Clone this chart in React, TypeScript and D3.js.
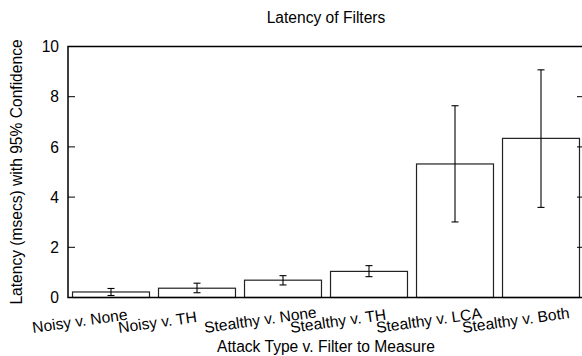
import { useEffect, useRef } from "react";
import * as d3 from "d3";

// ── data ───────────────────────────────────────────────────────────────────
const categories = [
  "Noisy v. None",
  "Noisy v. TH",
  "Stealthy v. None",
  "Stealthy v. TH",
  "Stealthy v. LCA",
  "Stealthy v. Both",
];
const latency = [0.22, 0.37, 0.69, 1.04, 5.32, 6.34];
const ciLow = [0.08, 0.19, 0.5, 0.83, 3.01, 3.59];
const ciHigh = [0.36, 0.57, 0.87, 1.27, 7.64, 9.07];
const yTicks = [0, 2, 4, 6, 8, 10];

const WIDTH = 582;
const HEIGHT = 356;
const FONT = "'Liberation Sans', Arial, Helvetica, sans-serif";
const FS = 15.6;

export default function App() {
  const svgRef = useRef<SVGSVGElement>(null);

  useEffect(() => {
    const svgEl = svgRef.current;
    if (!svgEl) return;

    const margin = { top: 46.5, right: -2, bottom: 58.5, left: 68 };
    const x0 = margin.left;
    const x1 = WIDTH - margin.right; // plot runs a little past the window edge
    const yTop = margin.top;
    const yBot = HEIGHT - margin.bottom;

    const svg = d3.select(svgEl);
    svg.selectAll("*").remove();

    const xScale = d3
      .scaleBand<string>()
      .domain(categories)
      .range([x0, x1])
      .paddingInner(0.105)
      .paddingOuter(0.0525);

    const yScale = d3.scaleLinear().domain([0, 10]).range([yBot, yTop]);

    const rows = categories.map((c, i) => ({
      cat: c,
      v: latency[i],
      lo: ciLow[i],
      hi: ciHigh[i],
    }));

    // ── bars ────────────────────────────────────────────────────────────────
    svg
      .append("g")
      .selectAll("rect")
      .data(rows)
      .join("rect")
      .attr("x", (d) => xScale(d.cat) ?? 0)
      .attr("width", xScale.bandwidth())
      .attr("y", (d) => yScale(d.v))
      .attr("height", (d) => yScale(0) - yScale(d.v))
      .attr("fill", "white")
      .attr("stroke", "#222")
      .attr("stroke-width", 1.2);

    // ── error bars ─────────────────────────────────────────────────────────
    const capW = 3.5;
    const err = svg
      .append("g")
      .attr("stroke", "#000")
      .attr("stroke-width", 1.1)
      .selectAll("g")
      .data(rows)
      .join("g")
      .attr("transform", (d) => `translate(${(xScale(d.cat) ?? 0) + xScale.bandwidth() / 2},0)`);
    err
      .append("line")
      .attr("y1", (d) => yScale(d.lo))
      .attr("y2", (d) => yScale(d.hi));
    err
      .append("line")
      .attr("x1", -capW)
      .attr("x2", capW)
      .attr("y1", (d) => yScale(d.hi))
      .attr("y2", (d) => yScale(d.hi));
    err
      .append("line")
      .attr("x1", -capW)
      .attr("x2", capW)
      .attr("y1", (d) => yScale(d.lo))
      .attr("y2", (d) => yScale(d.lo));

    // ── border + y ticks (mirrored) ─────────────────────────────────────────
    svg
      .append("rect")
      .attr("x", x0)
      .attr("y", yTop)
      .attr("width", x1 - x0)
      .attr("height", yBot - yTop)
      .attr("fill", "none")
      .attr("stroke", "#000")
      .attr("stroke-width", 1.5);

    const tickLen = 7;
    const ticks = svg.append("g").attr("stroke", "#000").attr("stroke-width", 1);
    ticks
      .selectAll("line.l")
      .data(yTicks.slice(1, -1))
      .join("line")
      .attr("class", "l")
      .attr("x1", x0)
      .attr("x2", x0 + tickLen)
      .attr("y1", (d) => yScale(d))
      .attr("y2", (d) => yScale(d));
    ticks
      .selectAll("line.r")
      .data(yTicks.slice(1, -1))
      .join("line")
      .attr("class", "r")
      .attr("x1", x1)
      .attr("x2", x1 - tickLen)
      .attr("y1", (d) => yScale(d))
      .attr("y2", (d) => yScale(d));

    svg
      .append("g")
      .selectAll("text")
      .data(yTicks)
      .join("text")
      .attr("x", x0 - 9)
      .attr("y", (d) => yScale(d))
      .attr("dy", "0.36em")
      .attr("text-anchor", "end")
      .attr("font-family", FONT)
      .attr("font-size", FS)
      .text((d) => String(d));

    // ── x tick labels (rotated, left-justified) ─────────────────────────────
    const labelY = 333;
    svg
      .append("g")
      .selectAll("text")
      .data(categories)
      .join("text")
      .attr("transform", (d) => {
        const cx = (xScale(d) ?? 0) + xScale.bandwidth() / 2;
        return `translate(${cx - 78},${labelY}) rotate(-8)`;
      })
      .attr("font-family", FONT)
      .attr("font-size", FS)
      .text((d) => d);

    // ── titles ─────────────────────────────────────────────────────────────
    const midX = (x0 + x1) / 2;
    svg
      .append("text")
      .attr("x", midX)
      .attr("y", 23)
      .attr("text-anchor", "middle")
      .attr("font-family", FONT)
      .attr("font-size", FS)
      .text("Latency of Filters");

    svg
      .append("text")
      .attr("x", midX)
      .attr("y", 352)
      .attr("text-anchor", "middle")
      .attr("font-family", FONT)
      .attr("font-size", FS)
      .text("Attack Type v. Filter to Measure");

    svg
      .append("text")
      .attr("transform", `translate(22,${(yTop + yBot) / 2}) rotate(-90)`)
      .attr("text-anchor", "middle")
      .attr("font-family", FONT)
      .attr("font-size", FS)
      .text("Latency (msecs) with 95% Confidence");
  }, []);

  return (
    <div style={{ position: "fixed", left: 0, top: 0, background: "white" }}>
      <svg ref={svgRef} width={WIDTH} height={HEIGHT} style={{ display: "block" }} />
    </div>
  );
}
